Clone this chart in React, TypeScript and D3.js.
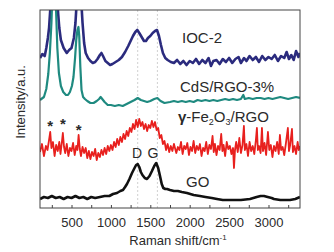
import React, { useRef, useEffect } from 'react';
import * as d3 from 'd3';

// Raman spectra, [wavenumber cm-1, intensity (a.u., stacked offsets)]
const iocData: [number, number][] = [
  [100, 150], [130, 154], [160, 152], [180, 160], [200, 170], [215, 180], [230, 198], [245, 215], [260, 235], [280, 245],
  [300, 240], [315, 215], [330, 195], [345, 180], [365, 168], [400, 160], [440, 155], [470, 158], [500, 160], [530, 170],
  [550, 185], [565, 205], [580, 235], [595, 245], [610, 235], [625, 205], [640, 185], [660, 165], [680, 155], [710, 150],
  [740, 147], [770, 145], [800, 146], [830, 149], [860, 153], [880, 155], [900, 152], [930, 147], [960, 145], [990, 143],
  [1020, 144], [1060, 146], [1100, 148], [1140, 151], [1180, 156], [1220, 162], [1250, 167], [1280, 172], [1310, 176], [1335, 178],
  [1360, 175], [1390, 171], [1420, 167], [1445, 167], [1470, 170], [1500, 172], [1530, 175], [1560, 177], [1585, 178], [1610, 172],
  [1635, 163], [1660, 155], [1690, 150], [1720, 148], [1760, 146], [1800, 145], [1840, 148], [1880, 144], [1920, 147], [1960, 143],
  [2000, 147], [2040, 145], [2080, 149], [2120, 144], [2160, 148], [2200, 145], [2240, 150], [2270, 142], [2300, 147], [2340, 148],
  [2380, 144], [2420, 149], [2460, 146], [2500, 150], [2540, 145], [2580, 149], [2620, 151], [2650, 145], [2690, 150], [2720, 147],
  [2760, 152], [2800, 148], [2840, 151], [2880, 146], [2920, 152], [2960, 148], [3000, 151], [3040, 149], [3080, 153], [3120, 147],
  [3160, 152], [3200, 150], [3230, 156], [3260, 149], [3290, 153], [3320, 148], [3350, 157], [3380, 151], [3400, 155],
];

const cdsData: [number, number][] = [
  [100, 108], [150, 111], [180, 119], [205, 134], [225, 155], [245, 185], [258, 215], [270, 240], [290, 235], [305, 195],
  [320, 160], [340, 135], [365, 122], [395, 116], [430, 113], [455, 113], [480, 116], [505, 122], [525, 131], [545, 150],
  [560, 168], [575, 178], [588, 181], [598, 172], [612, 141], [627, 118], [647, 111], [670, 109], [700, 107], [740, 105],
  [780, 105], [820, 107], [850, 109], [870, 111], [890, 109], [920, 106], [960, 103], [1000, 103], [1050, 102], [1100, 103],
  [1150, 102], [1200, 104], [1250, 106], [1300, 108], [1340, 110], [1380, 108], [1420, 107], [1460, 106], [1500, 107], [1550, 109],
  [1590, 110], [1630, 107], [1680, 105], [1750, 106], [1800, 107], [1850, 106], [1900, 107], [1950, 106], [2000, 107], [2050, 106],
  [2100, 108], [2150, 107], [2200, 108], [2250, 107], [2300, 108], [2350, 107], [2400, 108], [2450, 109], [2500, 108], [2550, 109],
  [2600, 108], [2650, 109], [2680, 113], [2700, 109], [2750, 110], [2800, 109], [2850, 110], [2900, 110], [2950, 109], [3000, 110],
  [3050, 109], [3100, 110], [3150, 111], [3200, 110], [3250, 109], [3300, 110], [3350, 111], [3400, 110],
];

const feData: [number, number][] = [
  [100, 56], [125, 64], [150, 52], [175, 62], [195, 58], [215, 68], [230, 76], [245, 60], [265, 66], [285, 52],
  [305, 63], [325, 57], [345, 66], [360, 54], [375, 64], [390, 75], [405, 61], [420, 55], [440, 64], [460, 52],
  [480, 60], [500, 57], [520, 65], [540, 53], [560, 62], [575, 58], [590, 73], [605, 59], [620, 52], [640, 61],
  [660, 55], [680, 60], [700, 50], [720, 57], [740, 49], [760, 56], [780, 52], [800, 59], [820, 48], [840, 55],
  [860, 51], [880, 58], [900, 53], [920, 60], [940, 54], [960, 62], [980, 57], [1000, 63], [1020, 58], [1040, 66],
  [1060, 61], [1080, 69], [1100, 63], [1120, 71], [1140, 66], [1160, 74], [1180, 69], [1200, 77], [1220, 72], [1240, 80],
  [1260, 76], [1280, 84], [1300, 79], [1320, 88], [1340, 81], [1360, 89], [1380, 82], [1400, 86], [1420, 79], [1440, 84],
  [1460, 77], [1480, 83], [1500, 80], [1520, 87], [1540, 81], [1560, 86], [1580, 78], [1600, 80], [1620, 70], [1640, 73],
  [1660, 64], [1680, 67], [1700, 58], [1720, 64], [1740, 56], [1760, 62], [1780, 57], [1800, 64], [1830, 55], [1850, 61],
  [1870, 58], [1890, 66], [1910, 54], [1930, 62], [1950, 59], [1970, 65], [1990, 53], [2010, 61], [2030, 57], [2050, 67],
  [2070, 55], [2090, 62], [2110, 58], [2130, 64], [2150, 52], [2170, 60], [2190, 57], [2210, 66], [2230, 54], [2250, 63],
  [2270, 59], [2290, 72], [2305, 56], [2320, 64], [2340, 53], [2360, 62], [2380, 58], [2400, 74], [2415, 57], [2430, 63],
  [2450, 52], [2470, 66], [2490, 59], [2510, 62], [2530, 54], [2550, 60], [2562, 40], [2575, 58], [2590, 66], [2610, 56],
  [2630, 70], [2650, 55], [2670, 63], [2688, 82], [2700, 58], [2720, 64], [2740, 52], [2760, 66], [2780, 57], [2800, 62],
  [2820, 54], [2840, 68], [2853, 80], [2865, 58], [2880, 62], [2900, 55], [2917, 80], [2930, 57], [2950, 65], [2970, 53],
  [2993, 76], [3010, 58], [3030, 63], [3050, 51], [3070, 62], [3090, 57], [3110, 66], [3130, 54], [3145, 73], [3160, 58],
  [3180, 61], [3200, 53], [3220, 64], [3246, 80], [3260, 57], [3275, 63], [3298, 79], [3310, 56], [3330, 62], [3350, 54],
  [3370, 66], [3385, 58], [3400, 62],
];

const goData: [number, number][] = [
  [100, 9], [150, 11], [200, 10], [250, 12], [300, 10], [350, 11], [400, 9], [450, 11], [500, 10], [550, 12],
  [600, 10], [650, 11], [700, 9], [750, 11], [800, 10], [861, 11], [920, 12], [980, 12], [1027, 14], [1077, 15],
  [1120, 17], [1153, 18], [1180, 21], [1204, 24], [1235, 29], [1268, 35], [1300, 40], [1320, 43], [1340, 44], [1360, 41],
  [1380, 36], [1400, 33], [1430, 30], [1458, 29], [1490, 32], [1521, 37], [1550, 42], [1575, 45], [1600, 40], [1623, 32],
  [1645, 24], [1665, 20], [1690, 19], [1712, 19], [1750, 18], [1800, 17], [1850, 17], [1900, 16], [1965, 15], [2050, 13],
  [2130, 12], [2200, 11], [2280, 10], [2346, 9], [2420, 8], [2500, 8], [2562, 8], [2650, 8], [2765, 9], [2850, 11],
  [2900, 12], [2943, 12], [2990, 11], [3040, 10], [3070, 9], [3150, 8], [3220, 8], [3273, 8], [3340, 9], [3400, 11],
];

const series = [
  { name: 'IOC-2', data: iocData, color: '#2b2b7e', width: 2.6 },
  { name: 'CdS/RGO-3%', data: cdsData, color: '#1f8a80', width: 2.2 },
  { name: 'γ-Fe2O3/RGO', data: feData, color: '#e8201e', width: 1.8 },
  { name: 'GO', data: goData, color: '#111111', width: 2.6 },
];

const majorTicks = [500, 1000, 1500, 2000, 2500, 3000];
const minorTicks = [250, 750, 1250, 1750, 2250, 2750, 3250];
const bandLines = [1340, 1590];
// asterisks over the gamma-Fe2O3 peaks: [wavenumber, height]
const stars: [number, number][] = [[230, 85], [390, 87], [590, 81]];

const App = () => {
  const svgRef = useRef<SVGSVGElement>(null);

  useEffect(() => {
    const svg = d3.select(svgRef.current);
    svg.selectAll('*').remove();

    const W = 334, H = 252;
    const margin = { top: 10, right: 34, bottom: 44, left: 40 };
    const w = W - margin.left - margin.right;
    const h = H - margin.top - margin.bottom;
    const font = '"Liberation Sans", Arial, sans-serif';
    const ink = '#2a2a2a';

    const x = d3.scaleLinear().domain([100, 3400]).range([0, w]);
    const y = d3.scaleLinear().domain([0, 198]).range([h, 0]);

    svg.append('defs').append('clipPath').attr('id', 'plot-clip')
      .append('rect').attr('width', w).attr('height', h);

    const g = svg.append('g').attr('transform', `translate(${margin.left},${margin.top})`);

    // dotted guides at D and G bands
    g.selectAll('.band')
      .data(bandLines)
      .enter().append('line')
      .attr('x1', d => x(d)).attr('x2', d => x(d))
      .attr('y1', 0).attr('y2', h)
      .attr('stroke', '#c4c4c4')
      .attr('stroke-width', 0.8)
      .attr('stroke-dasharray', '2 2');

    const line = d3.line<[number, number]>().x(d => x(d[0])).y(d => y(d[1]));

    const curves = g.append('g').attr('clip-path', 'url(#plot-clip)');
    series.forEach(s => {
      curves.append('path')
        .datum(s.data)
        .attr('fill', 'none')
        .attr('stroke', s.color)
        .attr('stroke-width', s.width)
        .attr('stroke-linejoin', 'round')
        .attr('d', line);
    });

    // frame
    g.append('rect')
      .attr('width', w).attr('height', h)
      .attr('fill', 'none')
      .attr('stroke', '#444')
      .attr('stroke-width', 1);

    // x axis, ticks pointing inward
    const xAxis = g.append('g').attr('transform', `translate(0,${h})`);
    xAxis.call(d3.axisBottom(x).tickValues([...majorTicks, ...minorTicks]).tickSizeInner(-3).tickSizeOuter(0)
      .tickFormat(d => (majorTicks.includes(+d) ? String(d) : '')));
    xAxis.select('.domain').remove();
    xAxis.selectAll('line').attr('stroke', '#444');
    xAxis.selectAll('text')
      .attr('y', 19)
      .attr('dy', null)
      .attr('fill', ink)
      .style('font-family', font)
      .style('font-size', '13px');

    // axis titles
    const xt = svg.append('text')
      .attr('x', 178).attr('y', 245)
      .attr('text-anchor', 'middle')
      .attr('fill', ink)
      .style('font-family', font)
      .style('font-size', '13px');
    xt.append('tspan').text('Raman shift/cm');
    xt.append('tspan').attr('dy', -5).style('font-size', '8px').text('-1');

    svg.append('text')
      .attr('transform', 'translate(25,102) rotate(-90)')
      .attr('text-anchor', 'middle')
      .attr('fill', ink)
      .style('font-family', font)
      .style('font-size', '13px')
      .text('Intensity/a.u.');

    // series labels
    const lab = (px: number, py: number, size = 15) =>
      svg.append('text').attr('x', px).attr('y', py).attr('fill', ink)
        .style('font-family', font).style('font-size', `${size}px`);

    lab(182, 43).text('IOC-2');
    lab(180, 92).text('CdS/RGO-3%');
    const fe = lab(178, 122);
    fe.append('tspan').style('font-weight', 'bold').text('γ');
    fe.append('tspan').text('-Fe');
    fe.append('tspan').attr('dy', 3).style('font-size', '9px').text('2');
    fe.append('tspan').attr('dy', -3).text('O');
    fe.append('tspan').attr('dy', 3).style('font-size', '9px').text('3');
    fe.append('tspan').attr('dy', -3).text('/RGO');
    lab(186, 187).text('GO');

    lab(137, 158, 14).attr('text-anchor', 'middle').text('D');
    lab(153, 158, 14).attr('text-anchor', 'middle').text('G');

    g.selectAll('.star')
      .data(stars)
      .enter().append('text')
      .attr('x', d => x(d[0]))
      .attr('y', d => y(d[1]) + 8)
      .attr('text-anchor', 'middle')
      .attr('fill', ink)
      .style('font-family', font)
      .style('font-size', '15px')
      .style('font-weight', 'bold')
      .text('*');
  }, []);

  return (
    <svg ref={svgRef} width={334} height={252}
      style={{ position: 'absolute', left: 0, top: 0, background: '#fff', display: 'block' }} />
  );
};

export default App;
